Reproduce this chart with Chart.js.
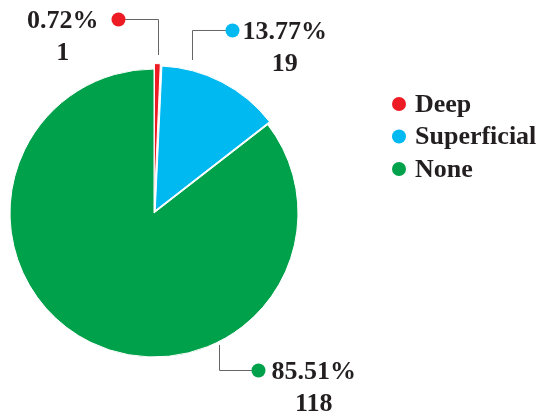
<!DOCTYPE html>
<html>
<head>
<meta charset="utf-8">
<script src="https://cdn.jsdelivr.net/npm/chart.js@4/dist/chart.umd.min.js"></script>
<style>
  html, body { margin:0; padding:0; background:#fff; }
  #wrap { width:544px; height:412px; position:relative; }
</style>
</head>
<body>
<div id="wrap"><canvas id="pie"></canvas></div>
<script>
const labels = ['Deep', 'Superficial', 'None'];
const counts = [1, 19, 118];
const percents = ['0.72%', '13.77%', '85.51%'];
const colors = ['#ED1C24', '#00B9F1', '#00A14B'];

const FONT = 'bold 26px "Liberation Serif"';
const INK = '#231F20';

// where each leader starts on its slice (fraction of the arc) and how it bends
const callouts = [
  { at: 0.5,  rise: -36, run: -40, side: 'left',  gap: 20 },
  { at: 0.21, rise: -30, run: 40,  side: 'right', gap: 10 },
  { at: 0.33, rise: 25,  run: 39,  side: 'right', gap: 13 }
];

const calloutPlugin = {
  id: 'callouts',
  afterDraw(c) {
    const ctx = c.ctx;
    const arcs = c.getDatasetMeta(0).data;
    ctx.save();
    ctx.font = FONT;
    arcs.forEach((arc, i) => {
      const { x, y, startAngle, endAngle, outerRadius } = arc.getProps(['x','y','startAngle','endAngle','outerRadius'], true);
      const co = callouts[i];
      const a = startAngle + (endAngle - startAngle) * co.at;
      const off = c.data.datasets[0].offset[i] || 0;
      const cx = x + Math.cos((startAngle + endAngle) / 2) * off;
      const cy = y + Math.sin((startAngle + endAngle) / 2) * off;
      const ax = Math.round(cx + Math.cos(a) * (outerRadius + 3)) + 0.5;
      const ay = cy + Math.sin(a) * (outerRadius + 3);
      const ey = Math.round(ay + co.rise) + 0.5;
      const dx = ax + co.run;
      ctx.strokeStyle = '#666666';
      ctx.lineWidth = 1;
      ctx.beginPath();
      ctx.moveTo(ax, ay);
      ctx.lineTo(ax, ey);
      ctx.lineTo(dx, ey);
      ctx.stroke();
      ctx.fillStyle = colors[i];
      ctx.beginPath();
      ctx.arc(dx, ey, 7, 0, Math.PI * 2);
      ctx.fill();
      ctx.fillStyle = INK;
      ctx.textBaseline = 'middle';
      const pw = ctx.measureText(percents[i]).width;
      const tx = co.side === 'left' ? dx - co.gap - pw : dx + co.gap;
      ctx.textAlign = 'left';
      ctx.fillText(percents[i], tx, ey + 2);
      ctx.textAlign = 'center';
      ctx.fillText(String(counts[i]), tx + pw / 2, ey + 34);
    });
    // legend
    const lx = 399, ly = 104, step = 32.5;
    labels.forEach((lab, i) => {
      ctx.fillStyle = colors[i];
      ctx.beginPath();
      ctx.arc(lx, ly + i * step, 7, 0, Math.PI * 2);
      ctx.fill();
      ctx.fillStyle = INK;
      ctx.textAlign = 'left';
      ctx.textBaseline = 'middle';
      ctx.fillText(lab, lx + 16, ly + i * step + 1);
    });
    ctx.restore();
  }
};

function build() {
  new Chart(document.getElementById('pie'), {
    type: 'pie',
    data: {
      labels: labels,
      datasets: [{
        data: counts,
        backgroundColor: colors,
        borderColor: '#ffffff',
        borderWidth: 1,
        offset: [11, 11, 0],
        radius: 144
      }]
    },
    options: {
      responsive: true,
      maintainAspectRatio: false,
      animation: false,
      layout: { padding: { left: 0, top: 14, right: 236, bottom: 0 } },
      plugins: {
        legend: { display: false },
        tooltip: { enabled: false }
      }
    },
    plugins: [calloutPlugin]
  });
}

document.fonts.load(FONT).then(build, build);
</script>
</body>
</html>
